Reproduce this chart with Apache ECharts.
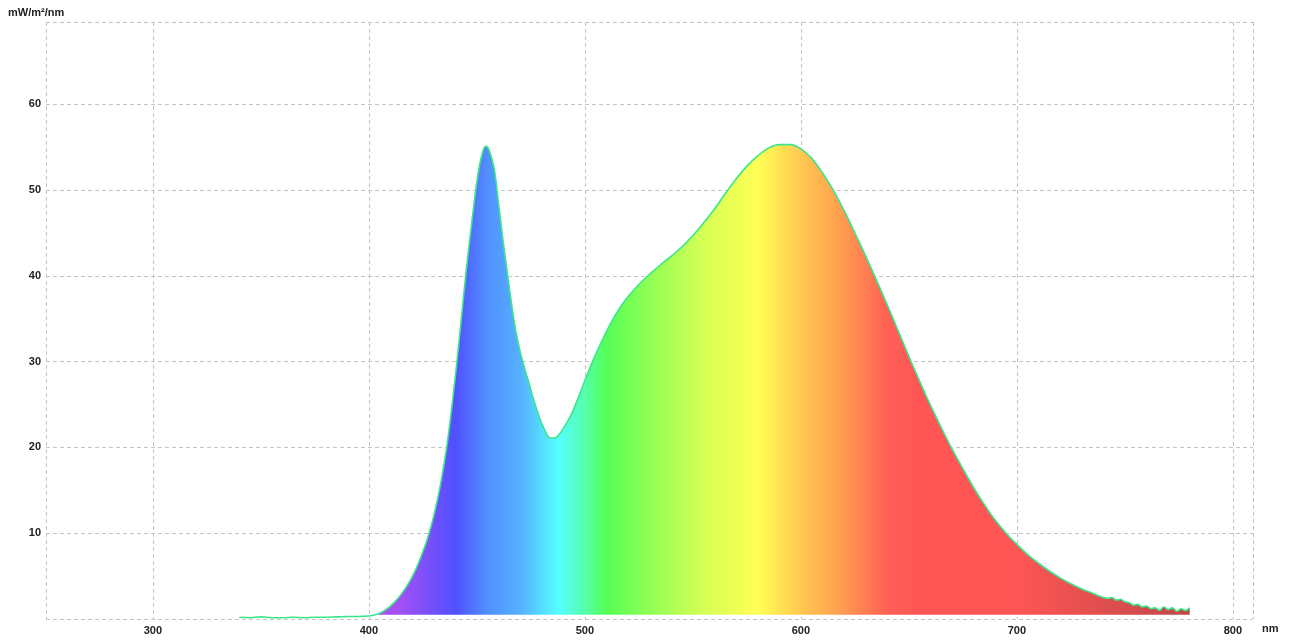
<!DOCTYPE html>
<html>
<head>
<meta charset="utf-8">
<script src="https://cdn.jsdelivr.net/npm/echarts@6/dist/echarts.min.js"></script>
<style>
html,body{margin:0;padding:0;background:#fff;}
#chart{width:1296px;height:643px;}
</style>
</head>
<body>
<div id="chart"></div>
<script>
// Wavelengths (nm) and spectral irradiance (mW/m²/nm)
const wavelengths = [340,345,350,355,360,365,370,375,380,385,390,395,400,403,406,409,412,415,418,421,424,427,430,433,436,439,442,445,448,450,452,454,455,456,458,460,462,464,466,468,470,472,474,476,478,480,482,484,486,488,490,493,496,500,504,508,512,516,520,525,530,535,540,545,550,555,560,565,570,575,580,585,590,595,600,605,610,615,620,625,630,635,640,645,650,655,660,665,670,675,680,685,690,695,700,705,710,715,720,725,730,735,740,742,744,746,748,750,752,754,756,758,760,762,764,766,768,770,772,774,776,778,780];
const irradiance = [0.2,0.15,0.25,0.15,0.15,0.2,0.15,0.2,0.2,0.25,0.3,0.3,0.35,0.5,0.8,1.3,2.0,2.9,4.0,5.4,7.2,9.3,12.0,15.5,20.0,26.0,33.0,40.5,47.0,51.0,53.8,55.1,55.0,54.4,52.5,48.5,44.3,40.5,36.8,33.6,31.2,29.3,27.6,25.8,24.2,22.8,21.7,21.1,21.1,21.5,22.2,23.5,25.2,27.8,30.3,32.5,34.5,36.2,37.6,39.0,40.2,41.3,42.3,43.4,44.7,46.2,47.8,49.6,51.3,52.8,54.0,54.9,55.3,55.3,54.8,53.7,52.0,50.0,47.6,45.0,42.3,39.5,36.6,33.6,30.6,27.7,24.9,22.3,19.8,17.5,15.3,13.3,11.5,10.0,8.7,7.5,6.5,5.6,4.8,4.1,3.5,3.0,2.5,2.4,2.5,2.2,2.3,2.0,1.9,1.6,1.7,1.4,1.5,1.2,1.3,1.0,1.4,1.1,1.3,0.9,1.2,1.0,1.3];
const xTickValues = [300,400,500,600,700,800];
const yTickValues = [10,20,30,40,50,60];
const xMin = 250.5, xMax = 809.3, yMin = 0, yMax = 69.6;

// spectral colour stops (nm -> colour) for the fill
const spectrumNm = [405,415,440,455,470,488,500,510,530,555,580,600,620,640,655,700,780];
const spectrumColors = ['#b050f2','#a050f5','#5050ff','#5090ff','#55b0ff','#55ffff','#55ffaa','#55ff55','#90ff55','#d5ff55','#ffff55','#ffc850','#ff9a50','#ff6055','#ff5555','#ff5555','#c04848'];

const first = wavelengths[0], last = wavelengths[wavelengths.length - 1];
const colorStops = [{offset: 0, color: 'rgba(255,255,255,0)'}, {offset: (403 - first) / (last - first), color: 'rgba(255,255,255,0)'}].concat(
  spectrumNm.map((nm, i) => ({
    offset: Math.min(1, Math.max(0, (nm - first) / (last - first))),
    color: spectrumColors[i]
  })));

const data = wavelengths.map((w, i) => [w, irradiance[i]]);

const chart = echarts.init(document.getElementById('chart'));
const labelStyle = {color: '#222', fontFamily: 'Liberation Sans, Arial, sans-serif', fontWeight: 'bold', fontSize: 11};
const gridLine = {show: true, lineStyle: {color: '#c4c4c4', type: [4, 3], width: 1}};

chart.setOption({
  animation: false,
  backgroundColor: '#fff',
  grid: {left: 46, right: 43, top: 22, bottom: 24, containLabel: false},
  xAxis: {
    type: 'value', min: xMin, max: xMax,
    axisLine: {show: false},
    axisTick: {show: false, customValues: [xMin].concat(xTickValues, [xMax])},
    axisLabel: Object.assign({customValues: xTickValues, margin: 6}, labelStyle),
    splitLine: gridLine
  },
  yAxis: {
    type: 'value', min: yMin, max: yMax,
    axisLine: {show: false},
    axisTick: {show: false, customValues: [yMin].concat(yTickValues, [yMax])},
    axisLabel: Object.assign({customValues: yTickValues, margin: 5}, labelStyle),
    splitLine: gridLine
  },
  graphic: [
    {type: 'text', left: 8, top: 7, style: {text: 'mW/m²/nm', fill: '#222', font: 'bold 11px Liberation Sans, Arial, sans-serif'}},
    {type: 'text', left: 1262, top: 623, style: {text: 'nm', fill: '#222', font: 'bold 11px Liberation Sans, Arial, sans-serif'}}
  ],
  series: [{
    type: 'line',
    data: data,
    showSymbol: false,
    smooth: 0.35,
    lineStyle: {color: '#3ae68a', width: 1.6},
    areaStyle: {
      origin: 0.5,
      opacity: 1,
      color: new echarts.graphic.LinearGradient(0, 0, 1, 0, colorStops)
    }
  }]
});
</script>
</body>
</html>
